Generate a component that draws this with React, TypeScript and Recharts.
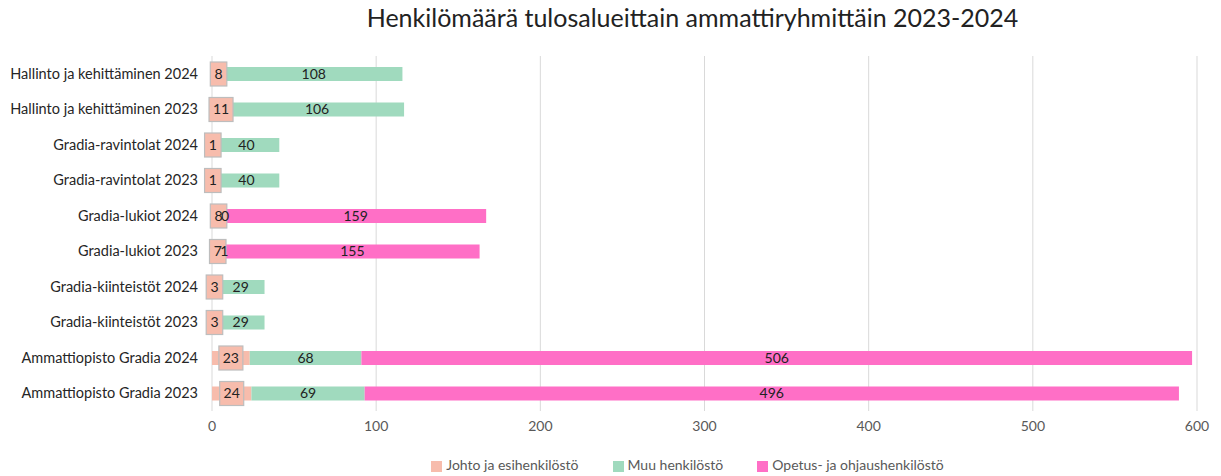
import { BarChart, Bar, XAxis, YAxis, CartesianGrid, Legend, LabelList } from 'recharts';

const categories = [
  'Hallinto ja kehittäminen 2024',
  'Hallinto ja kehittäminen 2023',
  'Gradia-ravintolat 2024',
  'Gradia-ravintolat 2023',
  'Gradia-lukiot 2024',
  'Gradia-lukiot 2023',
  'Gradia-kiinteistöt 2024',
  'Gradia-kiinteistöt 2023',
  'Ammattiopisto Gradia 2024',
  'Ammattiopisto Gradia 2023',
];
const johto = [8, 11, 1, 1, 8, 7, 3, 3, 23, 24];
const muu = [108, 106, 40, 40, 0, 1, 29, 29, 68, 69];
const opetus = [null, null, null, null, 159, 155, null, null, 506, 496];
const xTicks = [0, 100, 200, 300, 400, 500, 600];

const data = categories.map((name, i) => ({ name, johto: johto[i], muu: muu[i], opetus: opetus[i] }));

const FONT = 'Lato, "Liberation Sans", sans-serif';

// boxed callout for the small Johto segment
const BoxLabel = (props: any) => {
  const { x, y, width, height, value } = props;
  const txt = String(value);
  const w = txt.length * 7.5 + 9;
  const h = 24;
  const cx = x + width / 2;
  const cy = y + height / 2;
  return (
    <g>
      <rect x={cx - w / 2} y={cy - h / 2} width={w} height={h} fill="#f7bcac" stroke="#bdbdbd" strokeWidth={1.2} />
      <text x={cx} y={cy + 1} textAnchor="middle" dominantBaseline="middle" fontSize={14} fill="#222" fontFamily={FONT}>{txt}</text>
    </g>
  );
};

// centered value label, drawn even for zero-width segments
const CenterLabel = (props: any) => {
  const { x, y, width, height, value } = props;
  if (value === null || value === undefined) return null;
  return (
    <text x={x + width / 2} y={y + height / 2 + 1} textAnchor="middle" dominantBaseline="middle" fontSize={14} fill="#222" fontFamily={FONT}>
      {value}
    </text>
  );
};

export default function App() {
  return (
    <div style={{ position: 'absolute', left: 0, top: 0, width: 1221, height: 476, background: '#fff', fontFamily: FONT }}>
      <div style={{ position: 'absolute', top: 2, left: 200, width: 985, textAlign: 'center', fontSize: 25, color: '#222', fontFamily: FONT }}>
        Henkilömäärä tulosalueittain ammattiryhmittäin 2023-2024
      </div>
      <BarChart
        width={1221}
        height={476}
        data={data}
        layout="vertical"
        barSize={14}
        margin={{ top: 56, right: 24, bottom: 5, left: 0 }}
      >
        <CartesianGrid horizontal={false} stroke="#d9d9d9" />
        <XAxis
          type="number"
          domain={[0, 600]}
          ticks={xTicks}
          axisLine={false}
          tickLine={false}
          height={30}
          tickMargin={4}
          tick={{ fontSize: 14, fill: '#595959', fontFamily: FONT }}
        />
        <YAxis
          type="category"
          dataKey="name"
          width={212}
          axisLine={false}
          tickLine={false}
          tickSize={0}
          tickMargin={14}
          tick={{ fontSize: 14.5, fill: '#262626', fontFamily: FONT }}
        />
        <Legend
          verticalAlign="bottom"
          height={30}
          iconType="square"
          iconSize={11}
          wrapperStyle={{ left: 212, width: 985, top: 456, fontSize: 14, fontFamily: FONT }}
          formatter={(v: string) => <span style={{ color: '#595959', marginRight: 24 }}>{v}</span>}
        />
        <Bar dataKey="johto" name="Johto ja esihenkilöstö" stackId="a" fill="#f7bcac" isAnimationActive={false}>
          <LabelList dataKey="johto" content={BoxLabel} />
        </Bar>
        <Bar dataKey="muu" name="Muu henkilöstö" stackId="a" fill="#a0dabe" minPointSize={0.01} isAnimationActive={false}>
          <LabelList dataKey="muu" content={CenterLabel} />
        </Bar>
        <Bar dataKey="opetus" name="Opetus- ja ohjaushenkilöstö" stackId="a" fill="#ff6fc6" isAnimationActive={false}>
          <LabelList dataKey="opetus" content={CenterLabel} />
        </Bar>
      </BarChart>
    </div>
  );
}
